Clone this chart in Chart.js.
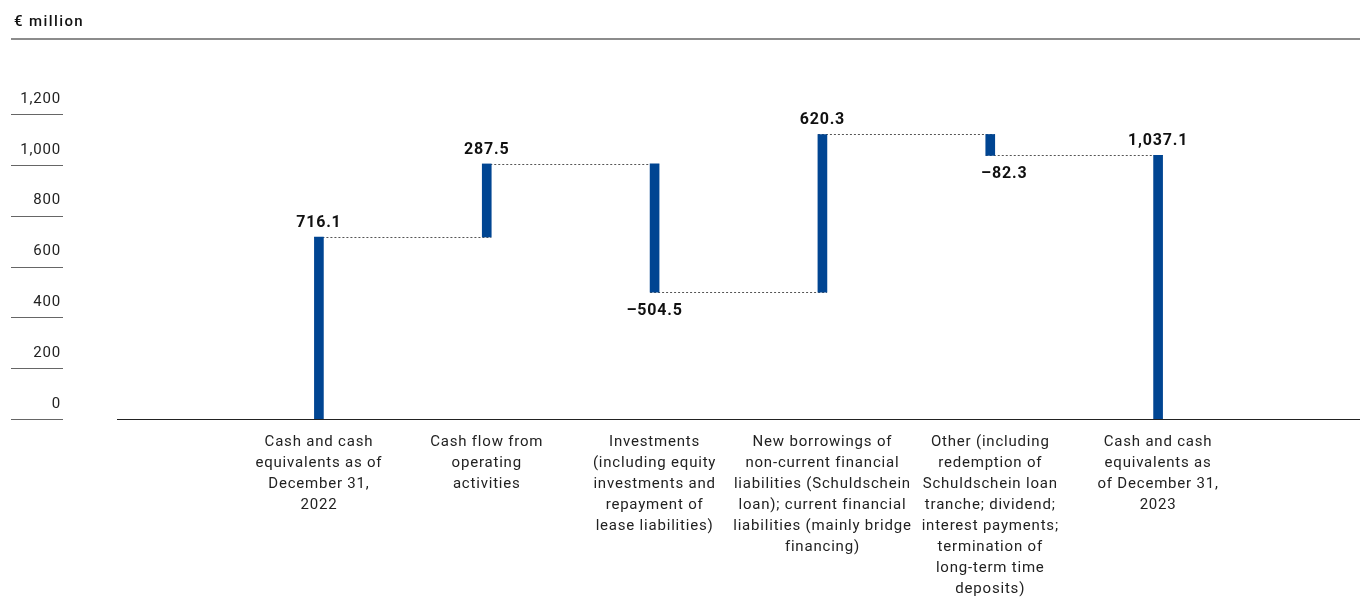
<!DOCTYPE html>
<html>
<head>
<meta charset="utf-8">
<script src="https://cdn.jsdelivr.net/npm/chart.js@4.4.1/dist/chart.umd.min.js"></script>
<style>
  html, body { margin: 0; padding: 0; background: #fff; }
  #wrap { position: relative; width: 1360px; height: 598px; }
  #unit { position: absolute; left: 14px; top: 12px; font: 500 15px Roboto, sans-serif; letter-spacing: 1.4px; color: #111; }
  #rule { position: absolute; left: 11px; right: 0; top: 38px; height: 2px; background: #8c8c8c; }
  canvas { position: absolute; left: 0; top: 0; }
</style>
</head>
<body>
<div id="wrap">
  <canvas id="chart" width="1360" height="598"></canvas>
  <div id="unit">€ million</div>
  <div id="rule"></div>
</div>
<script>
// categories (one array of lines per bar, as wrapped in the picture)
const categories = [
    ['Cash and cash', 'equivalents as of', 'December 31,', '2022'],
    ['Cash flow from', 'operating', 'activities'],
    ['Investments', '(including equity', 'investments and', 'repayment of', 'lease liabilities)'],
    ['New borrowings of', 'non-current financial', 'liabilities (Schuldschein', 'loan); current financial', 'liabilities (mainly bridge', 'financing)'],
    ['Other (including', 'redemption of', 'Schuldschein loan', 'tranche; dividend;', 'interest payments;', 'termination of', 'long-term time', 'deposits)'],
    ['Cash and cash', 'equivalents as', 'of December 31,', '2023']
];
const changes = [716.1, 287.5, -504.5, 620.3, -82.3, 1037.1];
const isTotal = [true, false, false, false, false, true];
const valueLabels = ['716.1', '287.5', '–504.5', '620.3', '–82.3', '1,037.1'];
const yMin = 0;
const yMax = 1200;
const yStep = 200;

// floating bar ranges for the waterfall
let running = 0;
const ranges = changes.map((v, i) => {
    if (isTotal[i]) {
        running = v;
        return [0, v];
    }
    const start = running;
    running += v;
    return [start, running];
});

const barColor = '#004592';
const barWidth = 9;
const spacing = '0.8px'; // the DIN-like original is wider than Roboto

const waterfallExtras = {
    id: 'waterfallExtras',
    beforeUpdate(chart) {
        chart.ctx.letterSpacing = spacing;
    },
    beforeDraw(chart) {
        chart.ctx.letterSpacing = spacing;
    },
    beforeDatasetsDraw(chart) {
        // dotted connectors between bars
        const ctx = chart.ctx;
        const x = chart.scales.x;
        const y = chart.scales.y;
        ctx.save();
        ctx.strokeStyle = '#555';
        ctx.lineWidth = 1;
        ctx.setLineDash([2, 2]);
        for (let i = 0; i < ranges.length - 1; i++) {
            const level = Math.round(y.getPixelForValue(ranges[i][1])) + 0.5;
            const x1 = x.getPixelForValue(i) - barWidth / 2;
            const x2 = x.getPixelForValue(i + 1) + barWidth / 2;
            ctx.beginPath();
            ctx.moveTo(x1, level);
            ctx.lineTo(x2, level);
            ctx.stroke();
        }
        ctx.restore();
    },
    afterDatasetsDraw(chart) {
        // value labels above rising bars, below falling ones
        const ctx = chart.ctx;
        const x = chart.scales.x;
        const y = chart.scales.y;
        ctx.save();
        ctx.font = 'bold 16px Roboto, sans-serif';
        ctx.fillStyle = '#111';
        ctx.textAlign = 'center';
        changes.forEach((v, i) => {
            let px = x.getPixelForValue(i);
            if (v >= 0) {
                ctx.textBaseline = 'alphabetic';
                ctx.fillText(valueLabels[i], px, y.getPixelForValue(ranges[i][1]) - 10);
            } else {
                if (i === 4) px += 14;
                ctx.textBaseline = 'top';
                ctx.fillText(valueLabels[i], px, y.getPixelForValue(ranges[i][1]) + 11);
            }
        });
        ctx.restore();
    },
    afterDraw(chart) {
        // short rules under the y tick labels
        const ctx = chart.ctx;
        const y = chart.scales.y;
        ctx.save();
        ctx.strokeStyle = '#666';
        ctx.lineWidth = 1;
        y.ticks.forEach(t => {
            const py = Math.round(y.getPixelForValue(t.value)) + 0.5;
            ctx.beginPath();
            ctx.moveTo(11, py);
            ctx.lineTo(63, py);
            ctx.stroke();
        });
        ctx.restore();
    }
};

new Chart(document.getElementById('chart').getContext('2d'), {
    type: 'bar',
    data: {
        datasets: [{
            data: ranges.map((r, i) => ({ x: i, y: r })),
            backgroundColor: barColor,
            borderWidth: 0,
            barThickness: barWidth
        }]
    },
    options: {
        responsive: false,
        animation: false,
        layout: { padding: { top: 114, left: 0, right: 0, bottom: 0 } },
        plugins: {
            legend: { display: false },
            tooltip: { enabled: false }
        },
        scales: {
            x: {
                type: 'linear',
                offset: false,
                min: -1.203,
                max: 6.203,
                grid: { display: false, drawTicks: false },
                border: { display: true, color: '#222', width: 1 },
                afterFit: (scale) => { scale.height = 179; },
                ticks: {
                    stepSize: 1,
                    autoSkip: false,
                    maxRotation: 0,
                    includeBounds: false,
                    padding: 13,
                    color: '#222',
                    font: { family: 'Roboto, sans-serif', size: 15, lineHeight: 1.4 },
                    callback: (v) => (Number.isInteger(v) && categories[v]) ? categories[v] : ''
                }
            },
            y: {
                min: yMin,
                max: yMax,
                grid: { display: false, drawTicks: false },
                border: { display: false },
                afterFit: (scale) => { scale.width = 117; },
                ticks: {
                    stepSize: yStep,
                    padding: 56,
                    labelOffset: -15,
                    color: '#222',
                    font: { family: 'Roboto, sans-serif', size: 15 },
                    callback: (v) => v.toLocaleString('en-US')
                }
            }
        }
    },
    plugins: [waterfallExtras]
});
</script>
</body>
</html>
